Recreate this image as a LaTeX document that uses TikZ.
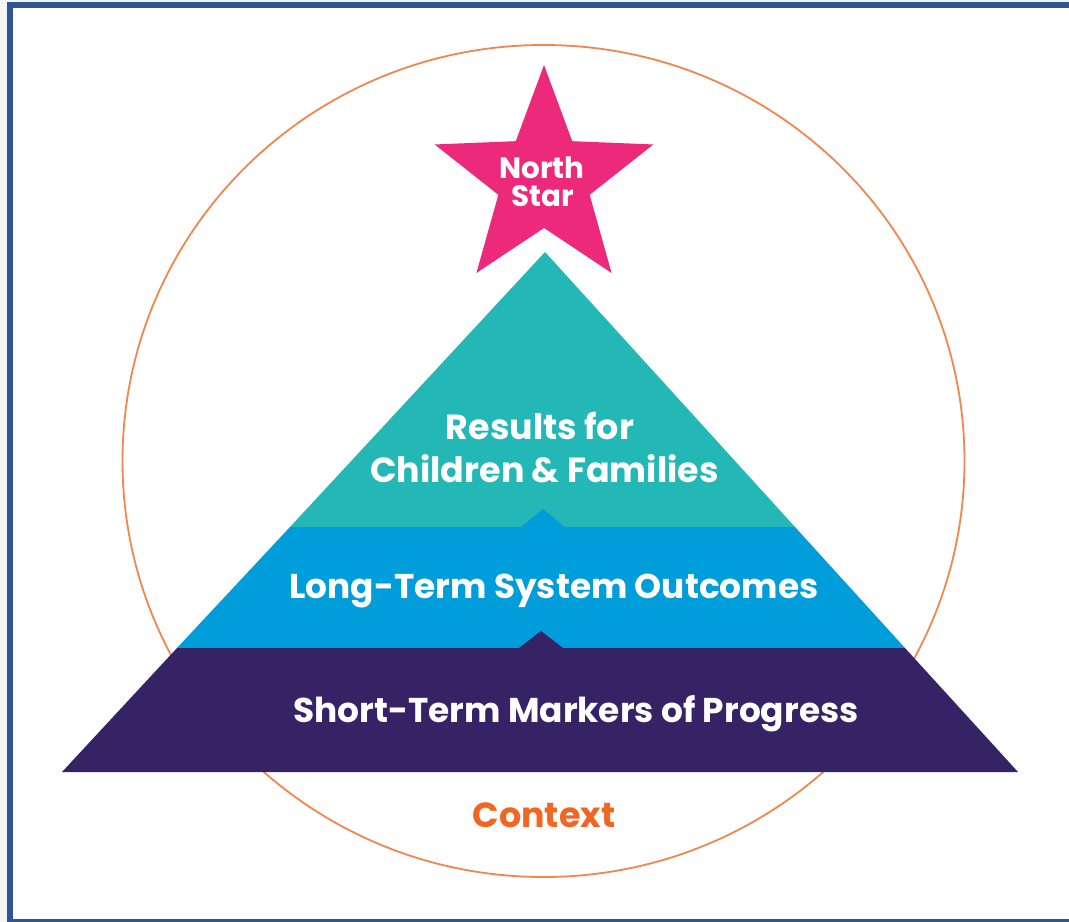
\documentclass[tikz,border=0pt]{standalone}
\usepackage{fontspec}
\setmainfont{Poppins}

\definecolor{pagegrey}{RGB}{244,244,244}
\definecolor{frameblue}{RGB}{47,85,151}
\definecolor{ringorange}{RGB}{241,134,78}
\definecolor{contextorange}{RGB}{242,101,34}
\definecolor{starpink}{RGB}{236,41,123}
\definecolor{tealtop}{RGB}{35,184,181}
\definecolor{bluemid}{RGB}{0,157,219}
\definecolor{navybase}{RGB}{54,35,102}

\tikzset{
  tiertext/.style={text=white, inner sep=0pt, anchor=base, font=\bfseries\fontsize{#1}{#1}\selectfont},
}

\begin{document}
\begin{tikzpicture}[x=1bp,y=-1bp]

\fill [pagegrey] (0,0) rectangle (1069,922);
\useasboundingbox (0,0) rectangle (1069,922);
\draw [frameblue, line width=5.5bp, fill=white] (9.8,4.8) rectangle (1085,921.8);

% outer ring
\draw [ringorange, line width=1.8bp] (543.5,461) ellipse [x radius=421bp, y radius=416bp];

% star on top
\fill [starpink] (544,65)
  \foreach \a/\r in {126/48,162/115,198/48,234/115,270/48,306/115,342/48,18/115,54/48}
  { -- ({544+\r*cos(\a)},{180-\r*sin(\a)}) } -- cycle;

\coordinate (apex) at (545,252);
\coordinate (tl) at (290,527);
\coordinate (tr) at (795,527);
\coordinate (ml) at (177,648);
\coordinate (mr) at (905,648);
\coordinate (bl) at (62,772);
\coordinate (br) at (1018,772);

% pyramid tiers
\fill [tealtop] (apex)--(tr)--(tl)--cycle;
\fill [bluemid] (tl)--(521,527)--(543,509)--(565,527)--(tr)--(mr)--(ml)--cycle;
\fill [navybase] (ml)--(519,648)--(541,631)--(563,648)--(mr)--(br)--(bl)--cycle;

\node [tiertext=29.5] (north) at (542,178) {North};
\node [tiertext=29.5] (star) at (543,206) {Star};

\node [tiertext=35] (results) at (540,439) {Results for};
\node [tiertext=35] (families) at (544.5,482) {Children \& Families};
\node [tiertext=34.5] (longterm) at (554,598) {Long-Term System Outcomes};
\node [tiertext=34.5] (shortterm) at (576,722) {Short-Term Markers of Progress};

\node [tiertext=35, text=contextorange] (context) at (544,827) {Context};

\end{tikzpicture}
\end{document}
